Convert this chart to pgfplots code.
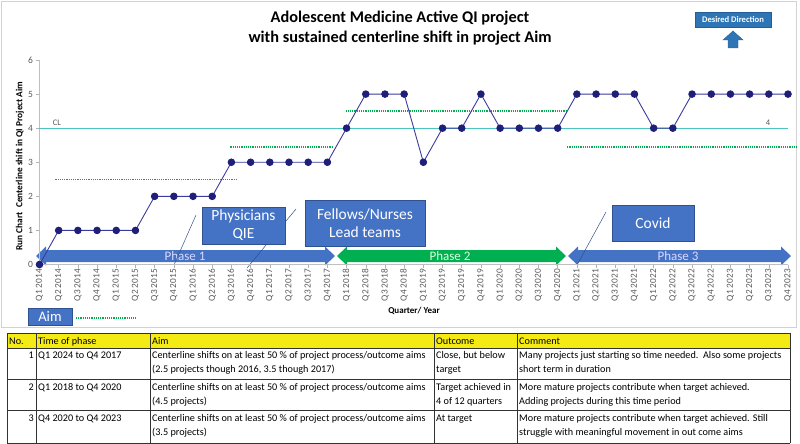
\documentclass[border=0pt]{standalone}
\usepackage{pgfplots}
\pgfplotsset{compat=1.18}
\usepackage{fontspec}
\setmainfont{Carlito}
\definecolor{navy}{HTML}{1F1F7A}
\definecolor{navyline}{HTML}{3B3B9E}
\definecolor{clcol}{HTML}{4CC4C0}
\definecolor{aimgreen}{HTML}{00B050}
\definecolor{boxblue}{HTML}{4472C4}
\definecolor{boxedge}{HTML}{2F528F}
\definecolor{ddblue}{HTML}{2E75B6}
\definecolor{tickgray}{HTML}{595959}
\definecolor{hdryellow}{HTML}{F5EB14}
\definecolor{phgreen}{HTML}{00B050}
\begin{document}
\begin{tikzpicture}
\begin{scope}[x=1pt,y=-1pt]
\path (0,0) rectangle (800,444);
\draw[gray!35, line width=0.8pt] (1.5,1.5) rectangle (796,327);
% title
\node[font=\fontsize{16.3}{19}\selectfont\bfseries] at (400,18) {Adolescent Medicine Active QI project};
\node[font=\fontsize{16.3}{19}\selectfont\bfseries] at (400,38) {with sustained centerline shift in project Aim};
% desired direction
\draw[fill=ddblue, draw=ddblue!80!black, line width=0.4pt] (695,12) rectangle (771,27);
\node[font=\fontsize{8.6}{10}\selectfont\bfseries, text=white] at (733,19.5) {Desired Direction};
\draw[fill=ddblue, draw=ddblue!80!black, line width=0.4pt] (733,31) -- (743,40) -- (738,40) -- (738,48) -- (728,48) -- (728,40) -- (723,40) -- cycle;
% y label and x label
\node[rotate=90, font=\fontsize{9.3}{10}\selectfont\bfseries] at (20,166) {Run Chart~~Centerline shift in QI Project Aim};
\node[font=\fontsize{9}{10}\selectfont\bfseries] at (414,311) {Quarter/ Year};
% phase arrows
\fill[boxblue] (36,256) -- (46,246.5) -- (46,250) -- (325,250) -- (325,246.5) -- (335,256) -- (325,265.5) -- (325,262) -- (46,262) -- (46,265.5) -- cycle;
\fill[phgreen] (337,256) -- (347,246.5) -- (347,250) -- (556,250) -- (556,246.5) -- (566,256) -- (556,265.5) -- (556,262) -- (347,262) -- (347,265.5) -- cycle;
\fill[boxblue] (568,256) -- (578,246.5) -- (578,250) -- (781,250) -- (781,246.5) -- (791,256) -- (781,265.5) -- (781,262) -- (578,262) -- (578,265.5) -- cycle;
\node[font=\fontsize{13}{14}\selectfont, text=white!85!blue] at (185,256) {Phase 1};
\node[font=\fontsize{13}{14}\selectfont, text=white!88!green] at (450,256) {Phase 2};
\node[font=\fontsize{13}{14}\selectfont, text=white!85!blue] at (678,256) {Phase 3};
% callouts
\draw[boxedge, line width=0.5pt] (196,215) -- (174,265);
\draw[boxedge, line width=0.5pt] (296,209) -- (247,268);
\draw[boxedge, line width=0.5pt] (606,212) -- (577,265);
\draw[fill=boxblue, draw=boxedge, line width=0.6pt] (202,207) rectangle (285,244);
\node[align=center, font=\fontsize{15.5}{18}\selectfont, text=white] at (243.5,225.5) {Physicians\\QIE};
\draw[fill=boxblue, draw=boxedge, line width=0.6pt] (305,200) rectangle (425,246);
\node[align=center, font=\fontsize{15.5}{18}\selectfont, text=white] at (365,223) {Fellows/Nurses\\Lead teams};
\draw[fill=boxblue, draw=boxedge, line width=0.6pt] (612,205) rectangle (694,241);
\node[font=\fontsize{15.5}{18}\selectfont, text=white] at (653,223) {Covid};
\draw[fill=boxblue, draw=boxedge, line width=0.6pt] (28,308) rectangle (72,325);
\node[font=\fontsize{14.5}{16}\selectfont, text=white] at (50,316.5) {Aim};
\draw[aimgreen, dash pattern=on 1.1pt off 1.1pt, line width=1.3pt] (76,318) -- (136,318);
% table
\fill[hdryellow] (7,333) rectangle (790,348);
\foreach \yy in {333,348,379,410,443} \draw[black!80, line width=0.6pt] (7,\yy) -- (790,\yy);
\foreach \xx in {7,36,150,434,517,790} \draw[black!80, line width=0.8pt] (\xx,333) -- (\xx,443);
\begin{scope}[every node/.style={font=\fontsize{10.2}{12}\selectfont, inner sep=0pt, anchor=base west}]
\node at (9,344.5) {No.};
\node at (38,344.5) {Time of phase};
\node at (152,344.5) {Aim};
\node at (436,344.5) {Outcome};
\node at (519,344.5) {Comment};
% row 1
\node[anchor=base east] at (34,358.5) {1};
\node at (38,358.5) {Q1 2024 to Q4 2017};
\node at (152,358.5) {Centerline shifts on at least 50 \% of project process/outcome aims};
\node at (152,372) {(2.5 projects though 2016, 3.5 though 2017)};
\node at (436,358.5) {Close, but below};
\node at (436,372) {target};
\node at (519,358.5) {Many projects just starting so time needed.~~Also some projects};
\node at (519,372) {short term in duration};
% row 2
\node[anchor=base east] at (34,390) {2};
\node at (38,390) {Q1 2018 to Q4 2020};
\node at (152,390) {Centerline shifts on at least 50 \% of project process/outcome aims};
\node at (152,404) {(4.5 projects)};
\node at (436,390) {Target achieved in};
\node at (436,404) {4 of 12 quarters};
\node at (519,390) {More mature projects contribute when target achieved.};
\node at (519,404) {Adding projects during this time period};
% row 3
\node[anchor=base east] at (34,421.5) {3};
\node at (38,421.5) {Q4 2020 to Q4 2023};
\node at (152,421.5) {Centerline shifts on at least 50 \% of project process/outcome aims};
\node at (152,435) {(3.5 projects)};
\node at (436,421.5) {At target};
\node at (519,421.5) {More mature projects contribute when target achieved. Still};
\node at (519,435) {struggle with meaningful movement in out come aims};
\end{scope}
\end{scope}
\begin{axis}[
  at={(39.5pt,-264.5pt)}, anchor=south west,
  scale only axis, width=748.5pt, height=204.5pt,
  xmin=0, xmax=39, ymin=0, ymax=6,
  clip=false,
  axis x line*=bottom, axis y line*=left,
  axis line style={gray!50, line width=0.5pt},
  tick style={gray!60, line width=0.5pt},
  tick align=outside, major tick length=3pt,
  /pgf/number format/assume math mode=true,
  ytick={0,1,2,3,4,5,6},
  y tick label style={font=\fontsize{9.5}{10}\selectfont, text=tickgray},
  xtick={0,...,39},
  xticklabels={Q1 2014,Q2 2014,Q3 2014,Q4 2014,Q1 2015,Q2 2015,Q3 2015,Q4 2015,Q1 2016,Q2 2016,Q3 2016,Q4 2016,Q1 2017,Q2 2017,Q3 2017,Q4 2017,Q1 2018,Q2 2018,Q3 2018,Q4 2018,Q1 2019,Q2 2019,Q3 2019,Q4 2019,Q1 2020,Q2 2020,Q3 2020,Q4 2020,Q1 2021,Q2 2021,Q3 2021,Q4 2021,Q1 2022,Q2 2022,Q3 2022,Q4 2022,Q1 2023,Q2 2023,Q3 2023,Q4 2023},
  x tick label style={rotate=90, anchor=east, font=\fontsize{9.3}{10}\selectfont, text=tickgray, inner sep=1.5pt},
]
\addplot[clcol, line width=1.3pt, forget plot] coordinates {(0,4) (39,4)};
\addplot[aimgreen, dash pattern=on 1.1pt off 1.1pt, line width=1.3pt, forget plot] coordinates {(0.83,2.5) (10.3,2.5)};
\addplot[aimgreen, dash pattern=on 1.1pt off 1.1pt, line width=1.3pt, forget plot] coordinates {(9.95,3.45) (15.3,3.45)};
\addplot[aimgreen, dash pattern=on 1.1pt off 1.1pt, line width=1.3pt, forget plot] coordinates {(15.95,4.5) (27.5,4.5)};
\addplot[aimgreen, dash pattern=on 1.1pt off 1.1pt, line width=1.3pt, forget plot] coordinates {(27.5,3.45) (39.45,3.45)};
\addplot[navyline, line width=0.9pt, mark=*, mark size=3.3pt, mark options={fill=navy, draw=navy}] coordinates {
(0,0) (1,1) (2,1) (3,1) (4,1) (5,1) (6,2) (7,2) (8,2) (9,2)
(10,3) (11,3) (12,3) (13,3) (14,3) (15,3) (16,4) (17,5) (18,5) (19,5)
(20,3) (21,4) (22,4) (23,5) (24,4) (25,4) (26,4) (27,4) (28,5) (29,5)
(30,5) (31,5) (32,4) (33,4) (34,5) (35,5) (36,5) (37,5) (38,5) (39,5)};
\node[font=\fontsize{8.5}{9}\selectfont, text=tickgray] at (axis cs:0.91,4.17) {CL};
\node[font=\fontsize{8.5}{9}\selectfont, text=tickgray] at (axis cs:37.96,4.17) {4};
\end{axis}
\end{tikzpicture}
\end{document}
